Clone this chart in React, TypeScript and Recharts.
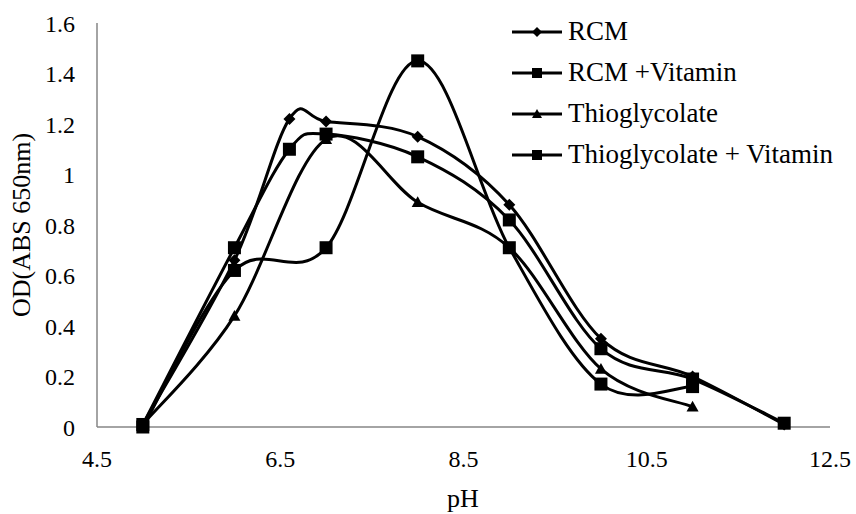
import React from 'react';
import { LineChart, Line, XAxis, YAxis } from 'recharts';

const pHRcm = [5, 6, 6.6, 7, 8, 9, 10, 11, 12];
const rcm = [0.01, 0.66, 1.22, 1.21, 1.15, 0.88, 0.35, 0.2, 0.01];
const rcmVit = [0.01, 0.71, 1.1, 1.16, 1.07, 0.82, 0.31, 0.19, 0.015];
const pHThio = [5, 6, 7, 8, 9, 10, 11];
const thio = [0.01, 0.44, 1.14, 0.89, 0.71, 0.23, 0.08];
const thioVit = [0.0, 0.62, 0.71, 1.45, 0.71, 0.17, 0.16];

const xTicks = [4.5, 6.5, 8.5, 10.5, 12.5];
const yTicks = [0, 0.2, 0.4, 0.6, 0.8, 1, 1.2, 1.4, 1.6];

const seriesNames = ['RCM', 'RCM +Vitamin', 'Thioglycolate', 'Thioglycolate + Vitamin'];
const seriesShapes = ['diamond', 'square', 'triangle', 'square'];

const toData = (xs: number[], ys: number[]) => xs.map((x, i) => ({ x, y: ys[i] }));
const seriesData = [toData(pHRcm, rcm), toData(pHRcm, rcmVit), toData(pHThio, thio), toData(pHThio, thioVit)];

const FONT = '"Liberation Serif", "Times New Roman", serif';

// Excel-like smoothing (Catmull-Rom style Bezier)
const smoothCurve: any = (context: any) => {
  let pts: number[][] = [];
  return {
    areaStart() {},
    areaEnd() {},
    lineStart() { pts = []; },
    point(x: number, y: number) { pts.push([+x, +y]); },
    lineEnd() {
      if (!pts.length) return;
      context.moveTo(pts[0][0], pts[0][1]);
      for (let i = 0; i < pts.length - 1; i++) {
        const p0 = pts[i - 1] || pts[i];
        const p1 = pts[i];
        const p2 = pts[i + 1];
        const p3 = pts[i + 2] || pts[i + 1];
        context.bezierCurveTo(
          p1[0] + (p2[0] - p0[0]) / 6, p1[1] + (p2[1] - p0[1]) / 6,
          p2[0] - (p3[0] - p1[0]) / 6, p2[1] - (p3[1] - p1[1]) / 6,
          p2[0], p2[1]
        );
      }
    },
  };
};

const Marker = ({ shape, cx, cy, s }: { shape: string; cx: number; cy: number; s: number }) => {
  if (shape === 'diamond') {
    return <polygon points={`${cx},${cy - s} ${cx + s},${cy} ${cx},${cy + s} ${cx - s},${cy}`} fill="#000" />;
  }
  if (shape === 'triangle') {
    return <polygon points={`${cx},${cy - s} ${cx + s},${cy + s * 0.8} ${cx - s},${cy + s * 0.8}`} fill="#000" />;
  }
  return <rect x={cx - s} y={cy - s} width={2 * s} height={2 * s} fill="#000" />;
};

const makeDot = (shape: string) => (props: any) => {
  const { cx, cy, index } = props;
  if (cx == null || cy == null) return <g key={index} />;
  return (
    <g key={`d-${index}`}>
      <Marker shape={shape} cx={cx} cy={cy} s={shape === 'square' ? 6.5 : 6} />
    </g>
  );
};

const LegendBox = () => (
  <div style={{ position: 'absolute', left: 512, top: 11, fontFamily: FONT, fontSize: 27, color: '#000' }}>
    {seriesNames.map((name, i) => (
      <div key={name} style={{ display: 'flex', alignItems: 'center', height: 41, whiteSpace: 'nowrap' }}>
        <svg width={52} height={20} style={{ marginRight: 4 }}>
          <line x1={0} y1={10} x2={50} y2={10} stroke="#000" strokeWidth={3} />
          <Marker shape={seriesShapes[i]} cx={25} cy={10} s={5} />
        </svg>
        <span style={{ lineHeight: '41px' }}>{name}</span>
      </div>
    ))}
  </div>
);

const YLabel = () => (
  <text
    x={21}
    y={225}
    transform="rotate(-90 21 225)"
    textAnchor="middle"
    dominantBaseline="central"
    fontFamily={FONT}
    fontSize={26}
    fill="#000"
  >
    OD(ABS 650nm)
  </text>
);

const XLabel = () => (
  <text x={463} y={498} textAnchor="middle" dominantBaseline="central" fontFamily={FONT} fontSize={26} fill="#000">
    pH
  </text>
);

export default function App() {
  return (
    <div style={{ position: 'absolute', left: 0, top: 0, width: 856, height: 514, background: '#fff' }}>
      <LineChart width={856} height={514} margin={{ top: 23, right: 26, bottom: 27, left: 37 }}>
        <XAxis
          type="number"
          dataKey="x"
          domain={[4.5, 12.5]}
          ticks={xTicks}
          interval={0}
          allowDataOverflow
          stroke="#868686"
          strokeWidth={1.5}
          tickLine={false}
          tickSize={0}
          tickMargin={23}
          height={60}
          tick={{ fill: '#000', fontSize: 24, fontFamily: FONT }}
          label={{ content: <XLabel /> }}
        />
        <YAxis
          type="number"
          dataKey="y"
          domain={[0, 1.6]}
          ticks={yTicks}
          interval={0}
          stroke="#868686"
          strokeWidth={1.5}
          tickLine={false}
          tickSize={0}
          tickMargin={22}
          width={60}
          tick={{ fill: '#000', fontSize: 24, fontFamily: FONT }}
          label={{ content: <YLabel /> }}
        />
        {seriesData.map((d, i) => (
          <Line
            key={seriesNames[i]}
            data={d}
            dataKey="y"
            name={seriesNames[i]}
            type={smoothCurve}
            stroke="#000"
            strokeWidth={3}
            dot={makeDot(seriesShapes[i])}
            activeDot={false}
            isAnimationActive={false}
          />
        ))}
      </LineChart>
      <LegendBox />
    </div>
  );
}
